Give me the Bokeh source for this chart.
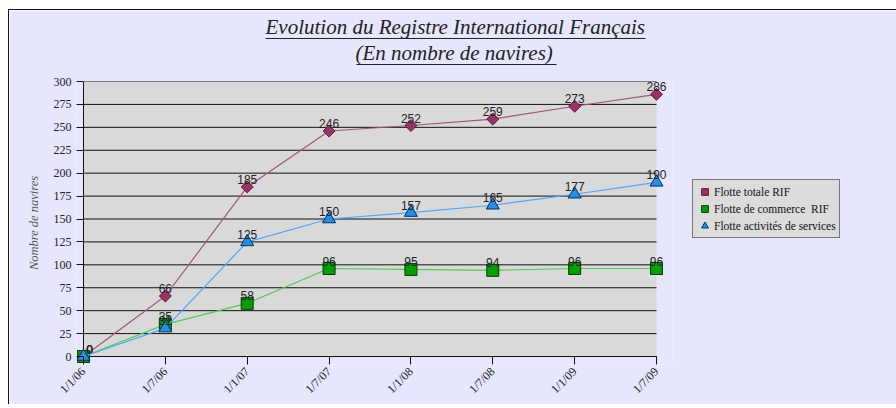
from bokeh.plotting import figure
from bokeh.models import (ColumnDataSource, Range1d, FixedTicker, Legend, LegendItem,
                          Title, LinearAxis, BoxAnnotation)
from bokeh.core.properties import value
from bokeh.embed import file_html
from bokeh.resources import INLINE
import math

# ---- data ----
dates = ["1/1/06", "1/7/06", "1/1/07", "1/7/07", "1/1/08", "1/7/08", "1/1/09", "1/7/09"]
flotte_totale = [0, 66, 185, 246, 252, 259, 273, 286]
flotte_commerce = [0, 35, 58, 96, 95, 94, 96, 96]
flotte_services = [0, 31, 125, 150, 157, 165, 177, 190]
y_ticks = list(range(0, 301, 25))
y_max = 300

title_1 = "Evolution du Registre International Français"
title_2 = "(En nombre de navires)"
y_title = "Nombre de navires"
names = ["Flotte totale RIF", "Flotte de commerce  RIF", "Flotte activités de services"]

xs = list(range(len(dates)))
n_last = len(dates) - 1

BG = "#E6E6FF"
SERIF = "Liberation Serif"
SANS = "Liberation Sans"

PLOT_W, PLOT_H = 573, 275          # grey plotting area (px)
PAD_L, PAD_R, PAD_B = 7, 16, 8     # room round it (= tick length) so edge markers are not cut
FRAME_W = PAD_L + PLOT_W + PAD_R
FRAME_H = PLOT_H + PAD_B
dx = n_last / PLOT_W
dy = y_max / PLOT_H

p = figure(frame_width=FRAME_W, frame_height=FRAME_H,
           min_border_left=74 - PAD_L, min_border_right=240 - PAD_R,
           min_border_top=71, min_border_bottom=40,
           output_backend="svg", toolbar_location=None,
           x_range=Range1d(-PAD_L * dx, n_last + PAD_R * dx),
           y_range=Range1d(-PAD_B * dy, y_max))
p.border_fill_color = BG
p.background_fill_color = BG
p.outline_line_color = None
p.styles = {"margin-left": "8px", "margin-top": "9px",
            "border-left": "1px solid #111", "border-top": "1.5px solid #111"}

# grey plotting area, horizontal rules and the two axis rules
p.add_layout(BoxAnnotation(left=0, right=n_last, bottom=0, top=y_max, level="underlay",
                           fill_color="#D9D9D9", fill_alpha=1, line_color=None))
p.segment(x0=[0] * len(y_ticks), x1=[n_last] * len(y_ticks), y0=y_ticks, y1=y_ticks,
          line_color="#111111", line_width=1)
p.segment(x0=[0, 0], x1=[0, n_last], y0=[0, 0], y1=[y_max, 0],
          line_color="#111111", line_width=1)
p.xgrid.grid_line_color = None
p.ygrid.grid_line_color = None

# axes: ticks reach from the frame edge to the grey area
p.xaxis.ticker = FixedTicker(ticks=xs)
p.xaxis.major_label_overrides = {i: d for i, d in enumerate(dates)}
p.xaxis.major_label_orientation = math.pi / 4
p.xaxis.major_tick_in = PAD_B
p.yaxis.ticker = FixedTicker(ticks=y_ticks)
p.yaxis.major_tick_in = PAD_L
for ax in (p.xaxis, p.yaxis):
    ax.axis_line_color = None
    ax.major_tick_line_color = "#111111"
    ax.major_tick_out = 0
    ax.minor_tick_line_color = None
    ax.major_label_text_font = SERIF
    ax.major_label_text_font_size = "12px"
    ax.major_label_text_color = "#222222"
    ax.major_label_standoff = 5
p.yaxis.axis_label = y_title
p.yaxis.axis_label_text_font = SERIF
p.yaxis.axis_label_text_font_style = "italic"
p.yaxis.axis_label_text_font_size = "12.5px"
p.yaxis.axis_label_text_color = "#555555"
p.yaxis.axis_label_standoff = 10

series = [
    (flotte_totale, "#A0587A", "#993366", "#5A1E3C", "square", math.pi / 4, 8.5),
    (flotte_commerce, "#55C855", "#00A000", "#0A3A0A", "square", 0, 12),
    (flotte_services, "#4DA6FF", "#1E90F0", "#0A2E55", "triangle", 0, 13),
]

# first data label sits to the right of the origin, as in the source chart
label_dx = [6 if i == 0 else 0 for i in xs]

items = []
for (vals, lc, fc, oc, marker, ang, size), name in zip(series, names):
    src = ColumnDataSource(dict(x=xs, y=vals, t=[str(v) for v in vals], dxo=label_dx))
    p.line("x", "y", source=src, line_color=lc, line_width=1.2)
    r = p.scatter("x", "y", source=src, marker=marker, angle=ang, size=size,
                  fill_color=fc, line_color=oc, line_width=1)
    p.text("x", "y", text="t", source=src, text_align="center", text_baseline="bottom",
           x_offset="dxo", y_offset=-3, text_font=value(SANS), text_font_size="12px",
           text_color="#222222")
    items.append(LegendItem(label=name, renderers=[r]))

legend = Legend(items=items, location=(36 - PAD_R, 118 + PAD_B))
legend.label_text_font = SERIF
legend.label_text_font_size = "11.5px"
legend.label_text_color = "#111111"
legend.glyph_width = 17
legend.glyph_height = 17
legend.label_height = 17
legend.spacing = 0
legend.padding = 3
legend.margin = 0
legend.label_standoff = 1
legend.border_line_color = "#111111"
legend.background_fill_color = "#DCDCDC"
legend.background_fill_alpha = 1
p.add_layout(legend, "right")

# title: two italic lines, each underlined (a bounded axis rule is the underline)
p.extra_x_ranges = {"title": Range1d(0, FRAME_W)}


def underline(b0, b1):
    return LinearAxis(x_range_name="title", bounds=(PAD_L + b0, PAD_L + b1),
                      ticker=FixedTicker(ticks=[]), axis_label=None,
                      axis_line_color="#222222", axis_line_width=1,
                      major_tick_out=0, major_tick_in=0, minor_tick_out=0, minor_tick_in=0,
                      major_label_standoff=0)


def title_line(text, left):
    return Title(text=text, align="left", offset=PAD_L + left, standoff=0,
                 text_font=SERIF, text_font_style="italic", text_font_size="21px",
                 text_color="#222222")


p.add_layout(Title(text=" ", text_font_size="1px", standoff=14), "above")
p.add_layout(underline(273, 473), "above")
p.add_layout(title_line(title_2, 272), "above")
p.add_layout(underline(182, 562), "above")
p.add_layout(title_line(title_1, 182), "above")

open("out.html", "w").write(file_html(p, INLINE))
